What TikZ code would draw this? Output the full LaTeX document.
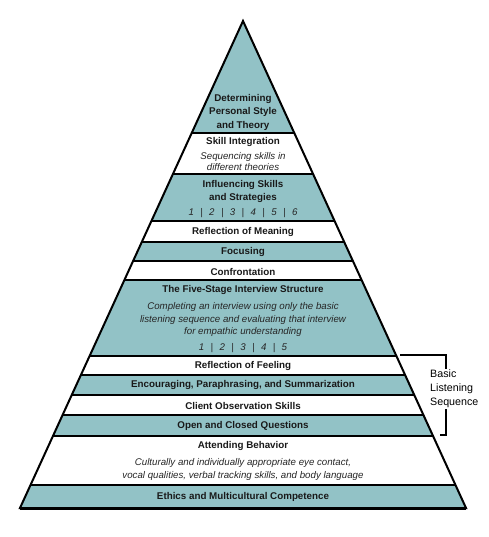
\documentclass[tikz,border=0pt]{standalone}
\usepackage{fontspec}
\setmainfont{Liberation Sans}
\usetikzlibrary{positioning}
\definecolor{bandblue}{RGB}{146,194,198}
\newcommand{\stagebar}{\hspace{6.4pt}|\hspace{6.4pt}}
\tikzset{
  title/.style={font=\fontsize{9.8}{13.5}\selectfont\bfseries, text=black!90, align=center, inner sep=0pt},
  note/.style={font=\fontsize{9.7}{12.5}\selectfont\itshape, text=black!85, align=center, inner sep=0pt},
  bracketnote/.style={font=\fontsize{10.7}{14}\selectfont, align=left, anchor=west, fill=white, inner sep=1pt}
}
\begin{document}
\begin{tikzpicture}[x=1pt,y=-1pt]
	\useasboundingbox (0,0) rectangle (488,537);
	\coordinate (apex) at (243,21);
	\coordinate (bl) at (20,508);
	\coordinate (br) at (466,508);
	\begin{scope}
		\clip (apex) -- (bl) -- (br) -- cycle;
		\fill[white] (0,0) rectangle (488,508);
		\foreach \t/\b in {0/133,174/221,242/261,280/356,375/395,415/436,485/508}
			\fill[bandblue] (0,\t) rectangle (488,\b);
		\foreach \y in {133,174,221,242,261,280,356,375,395,415,436,485}
			\draw[line width=1.2pt] (0,\y) -- (488,\y);
	\end{scope}
	\draw[line width=2pt,line join=miter] (apex) -- (bl) -- (br) -- cycle;
	\draw[line width=3pt] (bl) -- (br);
	
	\node[title] (det) at (243,112) {Determining\\Personal Style\\and Theory};
	\node[title] (si) at (243,142) {Skill Integration};
	\node[note] (sin) at (243,162) {Sequencing skills in\\[-1.5pt]different theories};
	\node[title] (inf) at (243,191.5) {Influencing Skills\\and Strategies};
	\node[note] (infn) at (243,213) {1\stagebar2\stagebar3\stagebar4\stagebar5\stagebar6};
	\node[title] (rm) at (243,232) {Reflection of Meaning};
	\node[title] (foc) at (243,252) {Focusing};
	\node[title] (con) at (243,272) {Confrontation};
	\node[title] (fs) at (243,290) {The Five-Stage Interview Structure};
	\node[note] (fsn) at (243,319.5) {Completing an interview using only the basic\\listening sequence and evaluating that interview\\for empathic understanding};
	\node[note] (fsnum) at (243,348) {1\stagebar2\stagebar3\stagebar4\stagebar5};
	\node[title] (rf) at (243,366) {Reflection of Feeling};
	\node[title] (enc) at (243,385) {Encouraging, Paraphrasing, and Summarization};
	\node[title] (cos) at (243,406) {Client Observation Skills};
	\node[title] (ocq) at (243,426) {Open and Closed Questions};
	\node[title] (ab) at (243,446) {Attending Behavior};
	\node[note] (abn) at (243,469.5) {Culturally and individually appropriate eye contact,\\vocal qualities, verbal tracking skills, and body language};
	\node[title] (emc) at (243,497) {Ethics and Multicultural Competence};
	
	\coordinate (bt) at (400,355);
	\coordinate (bb) at (440,435);
	\draw[line width=1.8pt] (bt) -- ++(46,0) |- (bb);
	\node[bracketnote] (bls) at (429,389) {Basic\\Listening\\Sequence};
\end{tikzpicture}
\end{document}
